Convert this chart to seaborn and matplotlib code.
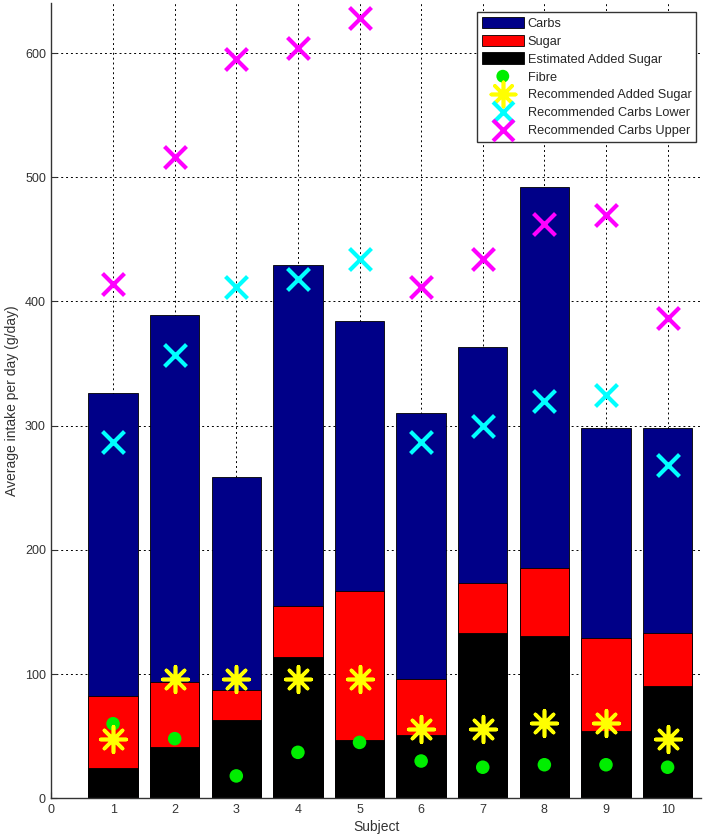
import numpy as np
import pandas as pd
import matplotlib
matplotlib.use("Agg")
import matplotlib.pyplot as plt
import seaborn as sns

# values (g/day)
subjects = [1, 2, 3, 4, 5, 6, 7, 8, 9, 10]
carbs = [326, 389, 259, 429, 384, 310, 363, 492, 298, 298]
sugar = [82, 94, 87, 155, 167, 96, 173, 185, 129, 133]
added_sugar = [24, 41, 63, 114, 47, 51, 133, 131, 54, 90]
fibre = [60, 48, 18, 37, 45, 30, 25, 27, 27, 25]
rec_added_sugar = [48, 96, 96, 96, 96, 56, 56, 61, 61, 48]
rec_carbs_lower = [287, 357, 412, 418, 434, 287, 300, 320, 325, 268]
rec_carbs_upper = [414, 516, 595, 604, 628, 412, 434, 462, 470, 387]

legend_order = ['Carbs', 'Sugar', 'Estimated Added Sugar', 'Fibre',
                'Recommended Added Sugar', 'Recommended Carbs Lower',
                'Recommended Carbs Upper']


def main():
    sns.set_style("white")
    plt.rcParams['font.family'] = ['Liberation Sans', 'DejaVu Sans']

    df = pd.DataFrame({
        'Subject': subjects,
        'Carbs': carbs,
        'Sugar': sugar,
        'Added': added_sugar,
        'Fibre': fibre,
        'RecAdded': rec_added_sugar,
        'RecLower': rec_carbs_lower,
        'RecUpper': rec_carbs_upper,
    })

    fig = plt.figure(figsize=(7.05, 8.38), dpi=100)
    ax = fig.add_axes([0.073, 0.0474, 0.922, 0.9486])

    bar_kw = dict(native_scale=True, width=0.8, edgecolor='black', linewidth=0.6,
                  errorbar=None, ax=ax)
    sns.barplot(data=df, x='Subject', y='Carbs', color='#000088', saturation=1,
                label='Carbs', **bar_kw)
    sns.barplot(data=df, x='Subject', y='Sugar', color='#ff0000', saturation=1,
                label='Sugar', **bar_kw)
    sns.barplot(data=df, x='Subject', y='Added', color='black', saturation=1,
                label='Estimated Added Sugar', **bar_kw)

    sns.scatterplot(data=df, x='Subject', y='Fibre', color='#00ee00', marker='o',
                    s=95, edgecolor='none', label='Fibre', ax=ax, zorder=5)
    sns.scatterplot(data=df, x='Subject', y='RecAdded', color='yellow', marker=(8, 2, 0),
                    s=340, linewidth=2.6, label='Recommended Added Sugar', ax=ax, zorder=6)
    sns.scatterplot(data=df, x='Subject', y='RecLower', color='cyan', marker='x',
                    s=250, linewidth=3, label='Recommended Carbs Lower', ax=ax, zorder=6)
    sns.scatterplot(data=df, x='Subject', y='RecUpper', color='magenta', marker='x',
                    s=250, linewidth=3, label='Recommended Carbs Upper', ax=ax, zorder=6)

    ax.set_xlim(0, 10.55)
    ax.set_ylim(0, 640)
    ax.set_xticks(range(0, 11))
    ax.set_xticklabels([str(i) for i in range(0, 11)])
    ax.set_yticks(range(0, 601, 100))

    ax.set_axisbelow(True)
    ax.grid(True, color='black', linestyle=(0, (2, 3)), linewidth=0.7)

    for s in ['top', 'right']:
        ax.spines[s].set_visible(False)
    for s in ['left', 'bottom']:
        ax.spines[s].set_color('#333333')
        ax.spines[s].set_linewidth(1.0)

    ax.tick_params(direction='in', length=4, labelsize=9, colors='#333333',
                   left=True, bottom=True, pad=4)
    ax.set_xlabel('Subject', fontsize=10, color='#333333', labelpad=3)
    ax.set_ylabel('Average intake per day (g/day)', fontsize=10, color='#333333',
                  labelpad=4)

    handles, labels = ax.get_legend_handles_labels()
    hmap = dict(zip(labels, handles))
    leg = ax.legend([hmap[l] for l in legend_order], legend_order,
                    loc='upper right', bbox_to_anchor=(0.9915, 0.989), fontsize=9.2,
                    fancybox=False, framealpha=1, edgecolor='#333333',
                    handlelength=3.3, handleheight=1.0, labelspacing=0.38,
                    borderpad=0.35, handletextpad=0.3, borderaxespad=0,
                    markerscale=0.95)
    leg.get_frame().set_linewidth(1.0)

    fig.savefig('out.png', dpi=100)


if __name__ == "__main__":
    main()
